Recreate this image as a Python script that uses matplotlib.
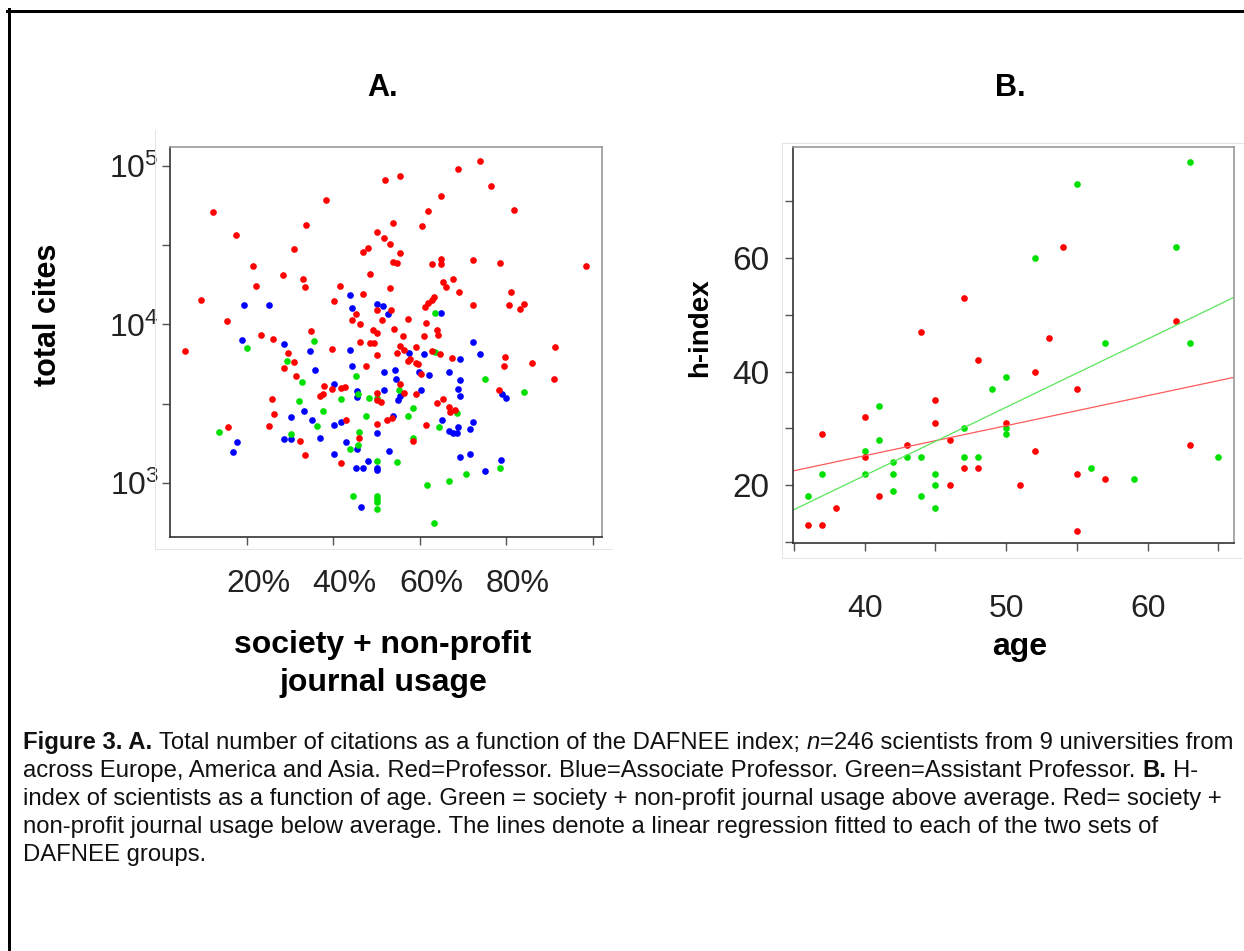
import matplotlib
matplotlib.use("Agg")
import matplotlib.pyplot as plt
from matplotlib.lines import Line2D
from matplotlib.transforms import ScaledTranslation

plt.rcParams['font.family'] = ['Liberation Sans', 'DejaVu Sans']
plt.rcParams['mathtext.fontset'] = 'custom'
plt.rcParams['mathtext.rm'] = 'Liberation Sans'
plt.rcParams['mathtext.it'] = 'Liberation Sans:italic'
plt.rcParams['mathtext.bf'] = 'Liberation Sans:bold'

# ---- panel A: usage (%) vs total cites ----
prof_usage = [12.1, 38.2, 17.5, 33.6, 50.0, 30.8, 46.8, 47.9, 21.4, 28.3, 32.9, 48.4, 22.2, 33.4, 41.5,
              9.4, 40.1, 46.8, 50.0, 45.1, 44.2, 46.1, 15.4, 34.9, 23.2, 26.0, 46.1, 49.4, 39.6,
              29.5, 5.7, 50.1, 30.8, 28.6, 47.5, 31.3, 37.9, 39.7, 41.8, 42.6, 50.0, 36.9, 37.6, 25.8,
              50.1, 26.2, 43.0, 50.1, 25.2, 15.5, 32.3, 45.8, 33.4, 41.7,
              55.4, 56.2, 54.8, 59.2, 64.6, 62.8, 67.5, 79.7, 91.2, 79.4, 85.8, 91.0, 57.3, 57.8, 59.1,
              59.6, 55.4, 60.2, 78.3, 56.2, 59.2, 51.1, 63.9, 65.4, 66.7, 66.9, 68.1, 52.4, 53.5, 61.5,
              58.5, 73.9, 68.7, 52.0, 55.3, 76.4, 64.8, 61.8, 81.7, 53.8, 60.4, 51.6, 53.1, 55.3, 53.7,
              54.8, 62.8, 64.9, 64.9, 72.3, 78.4, 98.4, 53.1, 65.3, 66.0, 67.7, 69.1, 81.0, 72.2, 80.7,
              83.1, 84.0, 53.3, 51.2, 57.2, 61.2, 61.9, 63.3, 62.7, 61.3, 63.9, 64.1, 49.2, 50.1, 48.4,
              54.0, 56.1, 61.0]
prof_cites = [51000, 61200, 36900, 42700, 38500, 29800, 28800, 30400, 23300, 20500, 19500, 20700, 17400,
              17300, 17600, 14300, 14100, 15600, 12300, 11600, 10700, 10000, 10500, 9100, 8550, 8110,
              7730, 7600, 7030, 6580, 6840, 6430, 5820, 5340, 5500, 4710, 4090, 3900, 3990, 4050,
              3680, 3520, 3630, 3370, 3340, 2720, 2510, 2340, 2290, 2270, 1840, 1930, 1510, 1340,
              7310, 6900, 6640, 7180, 6550, 6810, 6180, 6270, 7210, 5500, 5740, 4550, 5910, 6030, 5740,
              5630, 4240, 4850, 3850, 3700, 3660, 3260, 3180, 3390, 3030, 2820, 2890, 2500, 2580, 2320,
              1850, 107000, 95800, 81600, 86800, 75100, 64400, 52300, 53000, 43700, 41800, 35300, 32400,
              28100, 24900, 24400, 24000, 25900, 24100, 25500, 24300, 23400, 16900, 18600, 17200, 19400,
              16000, 16000, 13200, 13300, 12600, 13500, 12300, 10700, 10900, 12900, 13600, 14900, 14300,
              10200, 9230, 8590, 9230, 8790, 7600, 9380, 8490, 8430]

assoc_usage = [43.8, 19.4, 25.2, 44.3, 50.1, 51.5, 52.7, 18.8, 28.6, 43.8, 34.5, 44.3, 35.8, 40.1, 45.5,
               45.4, 33.3, 30.1, 35.0, 41.8, 40.2, 50.1, 28.6, 30.1, 17.8, 36.9, 43.0, 45.5, 16.8, 40.1,
               48.0, 45.1, 46.8, 50.1, 46.3, 57.4, 60.9, 69.3, 72.3, 73.8, 51.7, 54.2, 54.5, 59.7, 62.1,
               66.8, 69.3, 79.0, 80.0, 51.7, 54.9, 55.4, 60.2, 68.9, 69.3, 53.7, 65.1, 72.2, 66.7, 67.7,
               68.6, 68.9, 71.5, 52.8, 69.3, 71.5, 78.7, 75.1, 64.9, 50.1]
assoc_cites = [15400, 13300, 13200, 12700, 13400, 13100, 11600, 7940, 7540, 6930, 6760, 5500, 5160, 4200,
               3820, 3500, 2860, 2610, 2500, 2430, 2310, 2070, 1900, 1900, 1820, 1910, 1800, 1630, 1560,
               1530, 1380, 1250, 1240, 1250, 706, 6640, 6510, 6030, 7730, 6550, 4990, 5160, 4530, 5040,
               4800, 4990, 4450, 3650, 3420, 3850, 3340, 3540, 3850, 3920, 3540, 2650, 2490, 2440, 2140,
               2060, 2060, 2250, 2190, 1600, 1450, 1520, 1400, 1190, 11800, 1210]

asst_usage = [35.5, 20.1, 29.2, 45.3, 32.7, 45.7, 32.0, 41.8, 48.2, 50.1, 37.6, 47.5, 13.5, 36.3, 30.1,
              45.9, 45.6, 43.8, 50.1, 44.6, 50.1, 50.1, 50.1, 50.1, 63.5, 75.1, 84.0, 55.1, 58.5, 68.6,
              57.3, 64.4, 58.5, 54.8, 78.4, 70.7, 66.8, 61.7, 63.3, 63.5]
asst_cites = [7830, 7140, 5890, 4710, 4320, 3630, 3300, 3370, 3420, 3420, 2840, 2660, 2100, 2280, 2040,
              2090, 1730, 1630, 1380, 824, 828, 793, 755, 689, 6740, 4530, 3730, 3860, 2990, 2750,
              2660, 2250, 1930, 1360, 1250, 1140, 1030, 968, 562, 11800]

usage_ticks = [20, 40, 60, 80, 100]
usage_labels = ['20%', '40%', '60%', '80%', '']
cites_ticks = [1e3, 10**3.5, 1e4, 10**4.5, 1e5]
cites_labels = [r'$\mathregular{10^3}$', '', r'$\mathregular{10^4}$', '', r'$\mathregular{10^5}$']

# ---- panel B: age vs h-index ----
below_age = [47, 44, 48, 54, 62, 53, 45, 40, 45, 37, 50, 46, 43, 40, 47, 48, 46, 51, 41, 38, 36, 37,
             52, 55, 52, 63, 55, 57, 55]
below_h = [53, 47, 42, 62, 49, 46, 35, 32, 31, 29, 31, 28, 27, 25, 23, 23, 20, 20, 18, 16, 13, 13,
           40, 37, 26, 27, 22, 21, 12]
above_age = [63, 55, 52, 62, 57, 63, 50, 49, 41, 47, 50, 50, 41, 40, 42, 43, 44, 47, 48, 37, 40, 42,
             45, 45, 36, 42, 44, 45, 65, 56, 59]
above_h = [77, 73, 60, 62, 45, 45, 39, 37, 34, 30, 30, 29, 28, 26, 24, 25, 25, 25, 25, 22, 22, 22,
           22, 20, 18, 19, 18, 16, 25, 23, 21]
fit_age = [34.93, 66.1]
below_fit = [22.5, 39.0]
above_fit = [15.6, 53.1]

W, H = 1244, 951
RED, BLUE, GREEN = '#ff0000', '#0000ff', '#00e000'
DARK, LIGHT = '#333333', '#9a9a9a'
MS = 4.8

fig = plt.figure(figsize=(W / 100, H / 100), dpi=100)
fig.patch.set_facecolor('white')


def fx(px):
    return px / W


def fy(py):
    return 1 - py / H


def style_axes(ax):
    ax.spines['left'].set_color(DARK)
    ax.spines['bottom'].set_color(DARK)
    ax.spines['top'].set_color(LIGHT)
    ax.spines['right'].set_color(LIGHT)
    for s in ax.spines.values():
        s.set_linewidth(1.2)
    ax.tick_params(which='major', length=6, width=1.0, color='#555555',
                   labelsize=23, labelcolor='#222222')
    ax.tick_params(which='minor', length=0)


# panel A
axA = fig.add_axes([fx(170), fy(537), fx(432), 390 / H])
axA.set_yscale('log')
axA.plot(assoc_usage, assoc_cites, 'o', color=BLUE, ms=MS, mew=0)
axA.plot(asst_usage, asst_cites, 'o', color=GREEN, ms=MS, mew=0)
axA.plot(prof_usage, prof_cites, 'o', color=RED, ms=MS, mew=0)
axA.set_xlim(2.2, 102.1)
axA.set_ylim(456, 131800)
axA.set_xticks(usage_ticks)
axA.set_xticklabels(usage_labels)
axA.set_yticks(cites_ticks)
axA.set_yticklabels(cites_labels)
style_axes(axA)
axA.tick_params(axis='x', pad=17)
axA.tick_params(axis='y', pad=2, labelsize=23)
for lab in axA.get_xticklabels():
    lab.set_transform(lab.get_transform() + ScaledTranslation(0.11, 0, fig.dpi_scale_trans))

# panel B
axB = fig.add_axes([fx(793), fy(543), fx(441), 396 / H])
axB.plot(above_age, above_h, 'o', color=GREEN, ms=MS, mew=0)
axB.plot(below_age, below_h, 'o', color=RED, ms=MS, mew=0)
axB.plot(fit_age, below_fit, '-', color='#ff5a5a', lw=0.9)
axB.plot(fit_age, above_fit, '-', color='#5ae65a', lw=0.9)
axB.set_xlim(34.93, 66.1)
axB.set_ylim(9.8, 79.6)
axB.set_xticks([35, 40, 45, 50, 55, 60, 65])
axB.set_xticklabels(['', '40', '', '50', '', '60', ''])
axB.set_yticks([10, 20, 30, 40, 50, 60, 70])
axB.set_yticklabels(['', '20', '', '40', '', '60', ''])
style_axes(axB)
axB.tick_params(axis='x', pad=31)
axB.tick_params(axis='y', pad=11, labelsize=24)

# titles and axis labels
fig.text(fx(383), fy(88), 'A.', ha='center', va='center', fontsize=22, fontweight='bold')
fig.text(fx(1010), fy(88), 'B.', ha='center', va='center', fontsize=22, fontweight='bold')
fig.text(fx(48), fy(315), 'total cites', ha='center', va='center', rotation=90,
         fontsize=22, fontweight='bold')
fig.text(fx(700), fy(328), 'h-index', ha='center', va='center', rotation=90,
         fontsize=20, fontweight='bold')
fig.text(fx(383), fy(645), 'society + non-profit', ha='center', va='center',
         fontsize=23, fontweight='bold')
fig.text(fx(383), fy(683), 'journal usage', ha='center', va='center',
         fontsize=23, fontweight='bold')
fig.text(fx(1020), fy(647), 'age', ha='center', va='center', fontsize=23, fontweight='bold')

# frame lines of the screenshot
frame = [
    ([7, 1244], [10.5, 10.5], 'black', 3.0),
    ([8.5, 8.5], [9, 951], 'black', 3.0),
    ([155, 155], [130, 549], '#e4e4e4', 1.0),
    ([155, 612], [549, 549], '#e4e4e4', 1.0),
    ([782, 1244], [143, 143], '#e4e4e4', 1.0),
    ([782, 782], [143, 558], '#e4e4e4', 1.0),
    ([782, 1242], [558, 558], '#e4e4e4', 1.0),
]
for xs, ys, c, lw in frame:
    fig.add_artist(Line2D([fx(v) for v in xs], [fy(v) for v in ys], color=c, lw=lw * 0.72))

# caption with mixed styles
CAP_FS = 17.2
renderer = fig.canvas.get_renderer()


def text_width(s, **kw):
    t = fig.text(0, 0, s, fontsize=CAP_FS, **kw)
    w = t.get_window_extent(renderer=renderer).width
    t.remove()
    return w


space_w = text_width('a a') - text_width('aa')

caption = [
    [('Figure 3. A.', 'bold', 'normal'), (' ', 0, 0),
     ('Total number of citations as a function of the DAFNEE index;', 'normal', 'normal'), (' ', 0, 0),
     ('n', 'normal', 'italic'), ('=246 scientists from 9 universities from', 'normal', 'normal')],
    [('across Europe, America and Asia. Red=Professor. Blue=Associate Professor. '
      'Green=Assistant Professor.', 'normal', 'normal'), (' ', 0, 0),
     ('B.', 'bold', 'normal'), (' ', 0, 0), ('H-', 'normal', 'normal')],
    [('index of scientists as a function of age. Green = society + non-profit journal usage '
      'above average. Red= society +', 'normal', 'normal')],
    [('non-profit journal usage below average. The lines denote a linear regression fitted to '
      'each of the two sets of', 'normal', 'normal')],
    [('DAFNEE groups.', 'normal', 'normal')],
]
baselines = [749, 777, 805, 833, 861]

for line, base in zip(caption, baselines):
    x = 23
    for s, weight, style in line:
        if s == ' ':
            x += space_w
            continue
        t = fig.text(fx(x), fy(base), s, fontsize=CAP_FS, fontweight=weight, fontstyle=style,
                     ha='left', va='baseline', color='#111111')
        x += t.get_window_extent(renderer=renderer).width

fig.savefig('out.png', dpi=100)
